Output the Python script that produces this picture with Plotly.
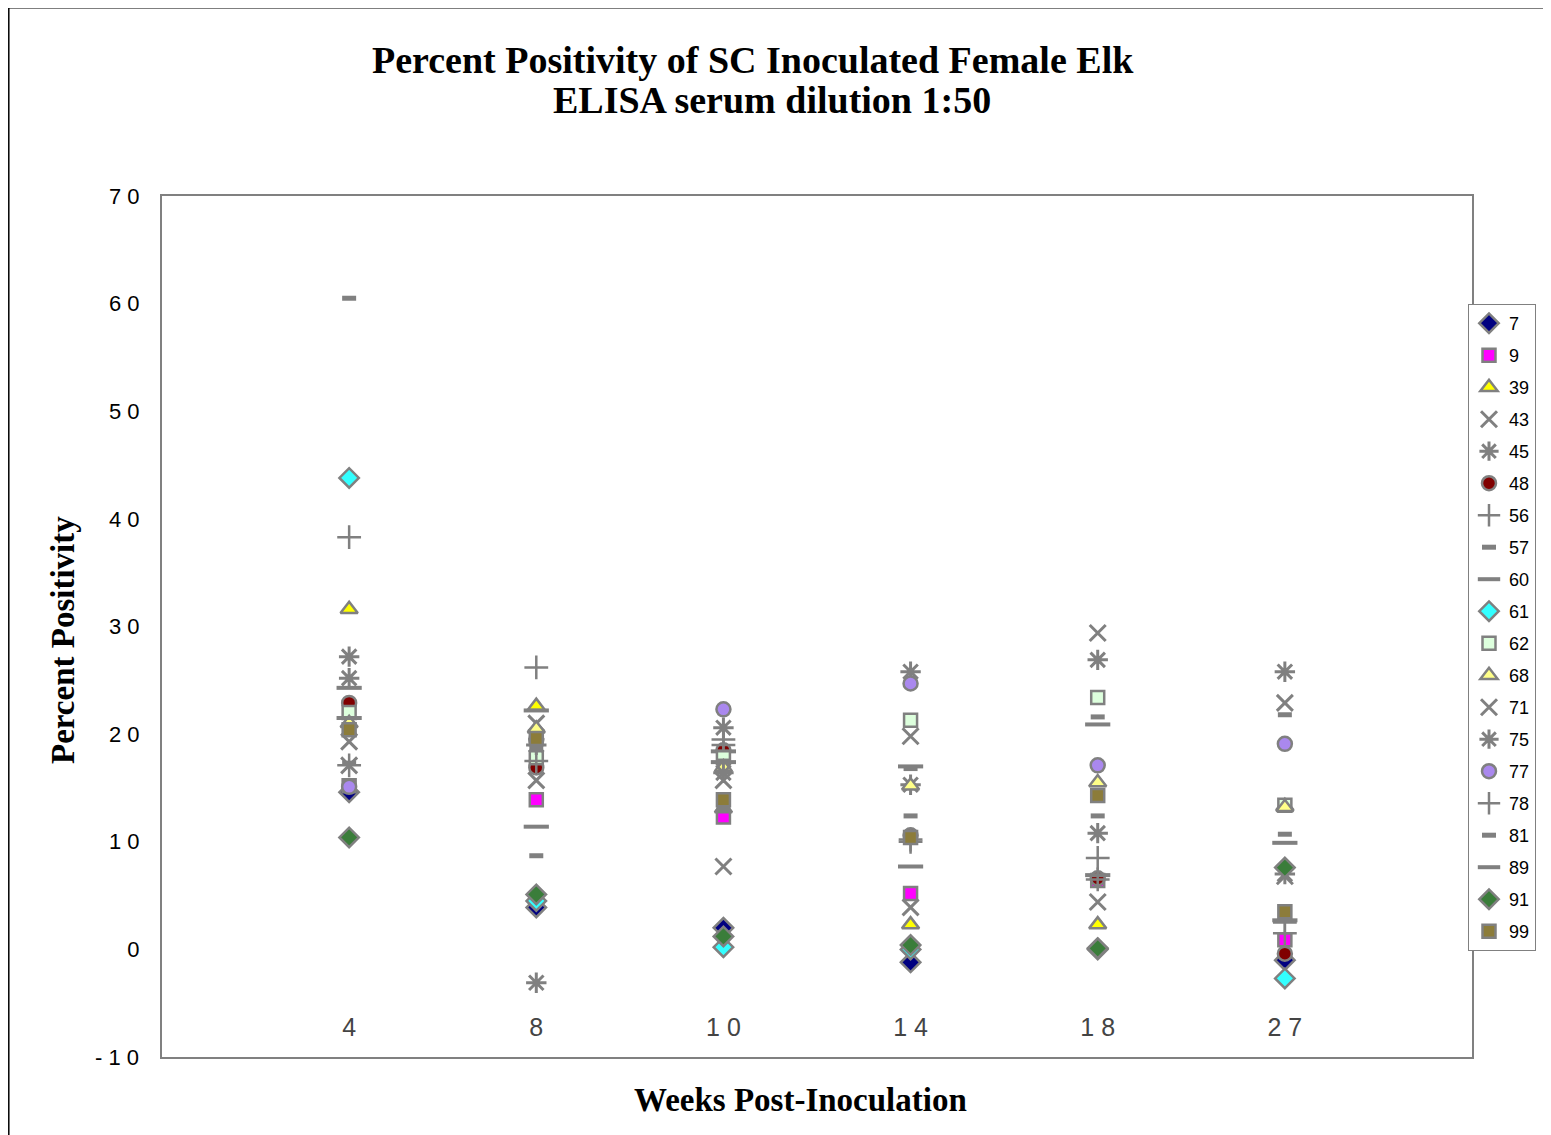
import plotly.graph_objects as go

weeks = ["4", "8", "10", "14", "18", "27"]
week_ticktext = ["4", "8", "1 0", "1 4", "1 8", "2 7"]
y_tickvals = [-10, 0, 10, 20, 30, 40, 50, 60, 70]
y_ticktext = ["- 1 0", "0", "1 0", "2 0", "3 0", "4 0", "5 0", "6 0", "7 0"]

elk_ids = ["7", "9", "39", "43", "45", "48", "56", "57", "60", "61",
           "62", "68", "71", "75", "77", "78", "81", "89", "91", "99"]

e7 = [14.6, 3.9, 2.0, -1.2, 0.0, -1.0]
e9 = [15.2, 13.9, 12.3, 5.2, 6.4, 0.9]
e39 = [31.6, 22.6, 13.1, 2.3, 2.3, 13.3]
e43 = [19.3, 21.0, 7.7, 19.8, 29.4, 22.9]
e45 = [27.2, -3.1, 20.6, 15.3, 10.8, 25.8]
e48 = [22.9, 16.9, 18.5, 10.6, 6.6, -0.4]
e56 = [38.3, 26.2, 19.0, 10.0, 8.5, 1.5]
e57 = [60.5, 8.7, 13.0, 12.4, 12.4, 21.8]
e60 = [24.3, 11.4, 18.4, 17.0, 20.9, 9.9]
e61 = [43.8, 4.5, 0.2, 0.0, 0.1, -2.7]
e62 = [22.0, 17.8, 17.8, 21.3, 23.4, 13.4]
e68 = [21.0, 20.5, 16.9, 15.2, 15.5, 13.2]
e71 = [17.1, 15.7, 15.7, 3.9, 4.4, 6.8]
e75 = [25.2, 19.0, 16.4, 25.8, 26.9, 7.0]
e77 = [15.1, 19.5, 22.3, 24.7, 17.1, 19.1]
e78 = [17.1, 17.5, 19.5, 10.2, 6.5, 2.5]
e81 = [17.3, 18.7, 17.5, 16.8, 21.6, 10.7]
e89 = [21.5, 22.2, 17.4, 7.7, 6.9, 2.7]
e91 = [10.4, 5.1, 1.2, 0.4, 0.1, 7.6]
e99 = [20.4, 19.6, 13.9, 10.4, 14.3, 3.5]

values = [e7, e9, e39, e43, e45, e48, e56, e57, e60, e61,
          e62, e68, e71, e75, e77, e78, e81, e89, e91, e99]

GRAY = "#808080"
styles = {
    "7": dict(symbol="diamond", color="#000080", size=15, line=dict(color=GRAY, width=2.5)),
    "9": dict(symbol="square", color="#FF00FF", size=13, line=dict(color=GRAY, width=2.5)),
    "39": dict(symbol="triangle-up", color="#FFFF00", size=15, line=dict(color=GRAY, width=2.5)),
    "43": dict(symbol="x-thin-open", color=GRAY, size=16, line=dict(color=GRAY, width=3)),
    "45": dict(symbol="asterisk-open", color=GRAY, size=17, line=dict(color=GRAY, width=3)),
    "48": dict(symbol="circle", color="#800000", size=14, line=dict(color=GRAY, width=2.5)),
    "56": dict(symbol="cross-thin-open", color=GRAY, size=17, line=dict(color=GRAY, width=2.5)),
    "57": dict(symbol="line-ew-open", color=GRAY, size=10, line=dict(color=GRAY, width=5)),
    "60": dict(symbol="line-ew-open", color=GRAY, size=18, line=dict(color=GRAY, width=4)),
    "61": dict(symbol="diamond", color="#33FFFF", size=15, line=dict(color=GRAY, width=2.5)),
    "62": dict(symbol="square", color="#DDFFDD", size=13, line=dict(color=GRAY, width=2.5)),
    "68": dict(symbol="triangle-up", color="#FFFF88", size=15, line=dict(color=GRAY, width=2.5)),
    "71": dict(symbol="x-thin-open", color=GRAY, size=16, line=dict(color=GRAY, width=3)),
    "75": dict(symbol="asterisk-open", color=GRAY, size=17, line=dict(color=GRAY, width=3)),
    "77": dict(symbol="circle", color="#AA88EE", size=14, line=dict(color=GRAY, width=2.5)),
    "78": dict(symbol="cross-thin-open", color=GRAY, size=17, line=dict(color=GRAY, width=2.5)),
    "81": dict(symbol="line-ew-open", color=GRAY, size=10, line=dict(color=GRAY, width=5)),
    "89": dict(symbol="line-ew-open", color=GRAY, size=18, line=dict(color=GRAY, width=4)),
    "91": dict(symbol="diamond", color="#3A7D3A", size=15, line=dict(color=GRAY, width=2.5)),
    "99": dict(symbol="square", color="#8C7C3A", size=13, line=dict(color=GRAY, width=2.5)),
}

fig = go.Figure()
for name, vals in zip(elk_ids, values):
    fig.add_trace(go.Scatter(
        x=weeks, y=vals, mode="markers", name=name, legendgroup=name,
        marker=styles[name], hoverinfo="skip",
    ))

# figure is placed at page offset (8, 8) by the browser's body margin
W, H = 1543, 1127
L, R, T, B = 154, 1464, 188, 1049
PW, PH = R - L, B - T


def px(xp):  # page x -> paper x
    return (xp - 8 - L) / PW


def py(yp):  # page y -> paper y
    return (B - (yp - 8)) / PH


TITLE_FONT = dict(family="Liberation Serif, Times New Roman", size=38, color="black")
AX_FONT = dict(family="Liberation Serif, Times New Roman", size=33, color="black")
TICK_FONT = dict(size=22, family="Liberation Sans, Arial", color="black")

fig.update_layout(
    width=W, height=H,
    paper_bgcolor="white", plot_bgcolor="white",
    margin=dict(l=L, r=W - R, t=T, b=H - B, autoexpand=False),
    font=dict(family="Liberation Sans, Arial", color="black"),
    showlegend=True,
    legend=dict(
        x=px(1468), xanchor="left",
        y=py(304), yanchor="top",
        font=dict(family="Liberation Sans, Arial", size=18, color="black"),
        bordercolor=GRAY, borderwidth=1, bgcolor="white",
        traceorder="grouped", tracegroupgap=5.6, itemwidth=30,
    ),
    xaxis=dict(
        type="category", range=[-1, 6],
        tickvals=weeks, ticktext=week_ticktext,
        ticklabelposition="inside", ticklabelstandoff=18,
        tickfont=dict(size=25, family="Liberation Sans, Arial"),
        showgrid=False, zeroline=False, ticks="",
        showline=True, mirror=True, linecolor=GRAY, linewidth=2,
    ),
    yaxis=dict(
        range=[-10, 70], tickvals=y_tickvals, ticktext=y_ticktext,
        tickfont=TICK_FONT,
        showgrid=False, zeroline=False, ticks="", ticklabelstandoff=16,
        showline=True, mirror=True, linecolor=GRAY, linewidth=2,
    ),
    annotations=[
        dict(text="<b>Percent Positivity of SC Inoculated Female Elk</b>",
             xref="paper", yref="paper", x=px(753), y=py(60),
             showarrow=False, xanchor="center", yanchor="middle", font=TITLE_FONT),
        dict(text="<b>ELISA serum dilution 1:50</b>",
             xref="paper", yref="paper", x=px(772), y=py(100),
             showarrow=False, xanchor="center", yanchor="middle", font=TITLE_FONT),
        dict(text="<b>Percent Positivity</b>", textangle=-90,
             xref="paper", yref="paper", x=px(63), y=py(640),
             showarrow=False, xanchor="center", yanchor="middle", font=AX_FONT),
        dict(text="<b>Weeks Post-Inoculation</b>",
             xref="paper", yref="paper", x=px(800), y=py(1100),
             showarrow=False, xanchor="center", yanchor="middle", font=AX_FONT),
        # the lowest y tick label is hidden by plotly next to inside x labels
        dict(text=y_ticktext[0], xref="paper", yref="y", x=px(141), y=y_tickvals[0],
             showarrow=False, xanchor="right", yanchor="middle", font=TICK_FONT),
    ],
    shapes=[
        dict(type="rect", xref="paper", yref="paper",
             x0=px(8.8), x1=px(1600),
             y0=py(1200), y1=py(7.8),
             line=dict(color="black", width=1.5), layer="below"),
    ],
)

fig.write_html("out.html")
